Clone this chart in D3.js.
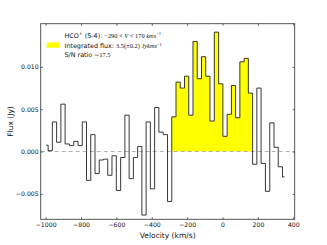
<!DOCTYPE html>
<html>
<head>
<style>
body { margin: 0; background: white; }
svg { display: block; font-family: "DejaVu Sans", sans-serif; }
.math { font-family: "Liberation Serif", serif; }
</style>
<script src="https://d3js.org/d3.v7.min.js"></script>
</head>
<body>
<svg id="chart" width="327" height="245"></svg>
<script>
// channel velocities (km/s)
const velocity = [
  -998, -974, -950, -926, -902, -878, -853, -829, -805, -781,
  -757, -733, -709, -685, -661, -637, -613, -588, -564, -540,
  -516, -492, -468, -444, -420, -396, -372, -348, -323, -299,
  -275, -251, -227, -203, -179, -155, -131, -107, -83, -59,
  -34, -10, 14, 38, 62, 86, 110, 134, 158, 182,
  206, 230, 255, 279, 303, 327, 351
];
// flux per channel (Jy)
const flux = [
  0.00075, 0.0001, 0.0035, 0.0011, 0.0056, 0.0009, 0.0007, 0.0012, 0.0007, 0.0035,
  -0.0034, 0.0020, -0.0026, -0.0010, -0.0009, -0.0028, -0.0005, -0.0046, -0.0007, 0.0043,
  -0.0032, -0.0007, 0.0006, -0.0075, 0.0035, -0.0044, 0.0052, 0.0023, 0.0020, -0.0059,
  0.0041, 0.0082, 0.0075, 0.0089, 0.0043, 0.0130, 0.0086, 0.0112, 0.0089, 0.0036,
  0.0141, 0.0080, 0.0018, 0.0044, 0.0078, 0.0040, 0.0106, 0.0110, 0.0069, -0.0015,
  0.0075, -0.0014, -0.0047, 0.0034, 0.0005, -0.0018, -0.0030
];
const lineRange = [-290, 170];
const xTicks = [-1000, -800, -600, -400, -200, 0, 200, 400];
const yTicks = [-0.005, 0, 0.005, 0.010];

const svg = d3.select('#chart');
const pLeft = 40.7, pRight = 294.7, pTop = 23.7, pBottom = 219.3;

const x = d3.scaleLinear().domain([-1028, 408]).range([pLeft, pRight]);
const y = d3.scaleLinear().domain([-0.008, 0.0151]).range([pBottom, pTop]);

const data = velocity.map((v, i) => ({ v: v, f: flux[i] }));

// yellow integrated region, filled between step edges
const inside = [];
data.forEach((d, i) => {
  if (d.v >= lineRange[0] && d.v <= lineRange[1]) {
    const lo = (d.v + data[i - 1].v) / 2;
    const hi = (d.v + data[i + 1].v) / 2;
    inside.push({ lo: lo, hi: hi, f: d.f });
  }
});
const fillPts = inside.map(d => ({ e: d.lo, f: d.f }));
fillPts.push({ e: inside[inside.length - 1].hi, f: inside[inside.length - 1].f });

svg.append('path')
  .datum(fillPts)
  .attr('fill', '#ffff00')
  .attr('d', d3.area().curve(d3.curveStepAfter)
    .x(d => x(d.e)).y0(y(0)).y1(d => y(d.f)));

// zero line
svg.append('line')
  .attr('x1', pLeft).attr('x2', pRight)
  .attr('y1', y(0)).attr('y2', y(0))
  .attr('stroke', '#b0b0b0')
  .attr('stroke-width', 1)
  .attr('stroke-dasharray', '4,3');

// spectrum
svg.append('path')
  .datum(data)
  .attr('fill', 'none')
  .attr('stroke', '#222')
  .attr('stroke-width', 0.9)
  .attr('d', d3.line().curve(d3.curveStep).x(d => x(d.v)).y(d => y(d.f)));

// axes, ticks pointing inward
const minus = d => (d < 0 ? '\u2212' : '');
const fmtY = d => minus(d) + Math.abs(d).toFixed(3);
const fmtX = d => minus(d) + Math.abs(d);

function styleAxis(g) {
  g.select('.domain').remove();
  g.selectAll('line').attr('stroke', '#333').attr('stroke-width', 0.8);
  g.selectAll('text').attr('font-size', 6.2).attr('fill', '#111')
    .attr('font-family', '"DejaVu Sans", sans-serif');
}

svg.append('g').attr('transform', `translate(0,${pBottom})`)
  .call(d3.axisBottom(x).tickValues(xTicks).tickFormat(fmtX).tickSizeInner(-2).tickSizeOuter(0).tickPadding(3))
  .call(styleAxis);
svg.append('g').attr('transform', `translate(0,${pTop})`)
  .call(d3.axisTop(x).tickValues(xTicks).tickFormat('').tickSizeInner(-2).tickSizeOuter(0))
  .call(styleAxis);
svg.append('g').attr('transform', `translate(${pLeft},0)`)
  .call(d3.axisLeft(y).tickValues(yTicks).tickFormat(fmtY).tickSizeInner(-2).tickSizeOuter(0).tickPadding(2))
  .call(styleAxis);
svg.append('g').attr('transform', `translate(${pRight},0)`)
  .call(d3.axisRight(y).tickValues(yTicks).tickFormat('').tickSizeInner(-2).tickSizeOuter(0))
  .call(styleAxis);

svg.append('rect')
  .attr('x', pLeft).attr('y', pTop)
  .attr('width', pRight - pLeft).attr('height', pBottom - pTop)
  .attr('fill', 'none').attr('stroke', '#444').attr('stroke-width', 0.9);

// axis labels
svg.append('text')
  .attr('x', (pLeft + pRight) / 2).attr('y', 238)
  .attr('text-anchor', 'middle').attr('font-size', 7.5).attr('fill', '#111')
  .text('Velocity (km/s)');
svg.append('text')
  .attr('transform', `translate(12.5,${(pTop + pBottom) / 2}) rotate(-90)`)
  .attr('text-anchor', 'middle').attr('font-size', 7.5).attr('fill', '#111')
  .text('Flux (Jy)');

// legend
const lg = svg.append('g').attr('font-size', 6.4).attr('fill', '#111');
lg.append('rect')
  .attr('x', 46.7).attr('y', 42.4).attr('width', 12.6).attr('height', 5.4)
  .attr('fill', '#ffff00');

const t1 = lg.append('text').attr('x', 64.5).attr('y', 37.5);
t1.append('tspan').text('HCO');
t1.append('tspan').attr('dy', -2.4).attr('font-size', 4.6).text('+');
t1.append('tspan').attr('dy', 2.4).text(' (5-4): ');
t1.append('tspan').attr('class', 'math').text('\u2212290 < ');
t1.append('tspan').attr('class', 'math').attr('font-style', 'italic').text('V');
t1.append('tspan').attr('class', 'math').text(' < 170 ');
t1.append('tspan').attr('class', 'math').attr('font-style', 'italic').text('kms');
t1.append('tspan').attr('class', 'math').attr('dy', -2.6).attr('font-size', 4.6).text('\u22121');

const t2 = lg.append('text').attr('x', 64.5).attr('y', 48.3);
t2.append('tspan').text('Integrated flux: ');
t2.append('tspan').attr('class', 'math').text('3.5(\u00b10.2) ');
t2.append('tspan').attr('class', 'math').attr('font-style', 'italic').text('Jykms');
t2.append('tspan').attr('class', 'math').attr('dy', -2.6).attr('font-size', 4.6).text('\u22121');

const t3 = lg.append('text').attr('x', 64.5).attr('y', 57);
t3.append('tspan').text('S/N ratio ');
t3.append('tspan').attr('class', 'math').text('\u223c17.5');
</script>
</body>
</html>
